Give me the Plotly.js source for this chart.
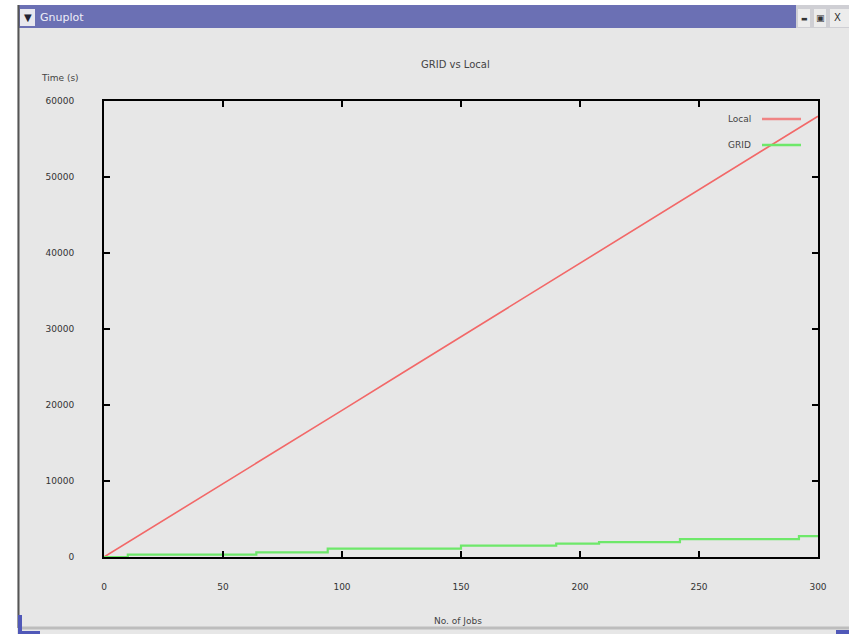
<!DOCTYPE html>
<html>
<head>
<meta charset="utf-8">
<script src="https://cdn.plot.ly/plotly-3.0.1.min.js"></script>
<style>html,body{margin:0;padding:0;background:#fff;}#chart{width:849px;height:634px;}</style>
</head>
<body>
<div id="chart"></div>
<script>
// Data
const localJobs = [0, 25, 50, 75, 100, 125, 150, 175, 200, 225, 250, 275, 300];
const localTime = [0, 4800, 9650, 14500, 19300, 24150, 29000, 33800, 38700, 43500, 48300, 53150, 58000];
const gridJobs = [0, 10, 64, 94, 150, 190, 208, 242, 292, 300];
const gridTime = [0, 300, 600, 1100, 1500, 1750, 1950, 2350, 2750, 2750];
const xTicks = [0, 50, 100, 150, 200, 250, 300];
const yTicks = [0, 10000, 20000, 30000, 40000, 50000, 60000];
const seriesNames = ["Local", "GRID"];

const W = 849, H = 634, L = 104, R = 818, T = 101, B = 557;
const px = v => (v - L) / (R - L);
const py = v => (B - v) / (B - T);

const shapes = [
  {type:'rect', xref:'paper', yref:'paper', x0:px(0), x1:px(17), y0:py(H), y1:py(0), fillcolor:'#ffffff', line:{width:0}, layer:'below'},
  {type:'rect', xref:'paper', yref:'paper', x0:px(0), x1:px(W), y0:py(5), y1:py(0), fillcolor:'#ffffff', line:{width:0}, layer:'below'},
  // title bar
  {type:'rect', xref:'paper', yref:'paper', x0:px(18), x1:px(796), y0:py(28), y1:py(5), fillcolor:'#6b70b4', line:{width:0}},
  {type:'rect', xref:'paper', yref:'paper', x0:px(20), x1:px(35), y0:py(26), y1:py(9), fillcolor:'#e8e8ee', line:{width:0}},
  {type:'rect', xref:'paper', yref:'paper', x0:px(796), x1:px(849), y0:py(28), y1:py(5), fillcolor:'#cfcfd4', line:{width:0}},
  {type:'rect', xref:'paper', yref:'paper', x0:px(798), x1:px(810), y0:py(27), y1:py(9), fillcolor:'#ececec', line:{width:0}},
  {type:'rect', xref:'paper', yref:'paper', x0:px(814), x1:px(826), y0:py(27), y1:py(9), fillcolor:'#ececec', line:{width:0}},
  {type:'rect', xref:'paper', yref:'paper', x0:px(830), x1:px(849), y0:py(27), y1:py(9), fillcolor:'#ececec', line:{width:0}},
  // left window border
  {type:'line', xref:'paper', yref:'paper', x0:px(18.5), x1:px(18.5), y0:py(628), y1:py(5), line:{color:'#555', width:2}},
  // bottom border
  {type:'line', xref:'paper', yref:'paper', x0:px(19), x1:px(849), y0:py(628), y1:py(628), line:{color:'#bdbdbd', width:3}},
  {type:'rect', xref:'paper', yref:'paper', x0:px(18), x1:px(22), y0:py(634), y1:py(615), fillcolor:'#5058b8', line:{width:0}},
  {type:'rect', xref:'paper', yref:'paper', x0:px(18), x1:px(40), y0:py(634), y1:py(631), fillcolor:'#5058b8', line:{width:0}},
  {type:'rect', xref:'paper', yref:'paper', x0:px(836), x1:px(849), y0:py(634), y1:py(630), fillcolor:'#5058b8', line:{width:0}},
  // legend samples
  {type:'line', xref:'paper', yref:'paper', x0:px(762), x1:px(801), y0:py(119), y1:py(119), line:{color:'#f08484', width:2.5}},
  {type:'line', xref:'paper', yref:'paper', x0:px(762), x1:px(801), y0:py(145), y1:py(145), line:{color:'#6ee86a', width:2.5}}
];

const txt = {family:'DejaVu Sans, sans-serif', size:9, color:'#444'};
function ann(x, y, text, font, xanchor) {
  return {xref:'paper', yref:'paper', x:px(x), y:py(y), text:text, showarrow:false,
          font:font, xanchor:xanchor || 'center', yanchor:'middle'};
}
const annotations = [
  ann(455, 65, 'GRID vs Local', {family:'DejaVu Sans, sans-serif', size:10, color:'#444'}),
  ann(39, 78, 'Time (s)', txt, 'left'),
  ann(458, 621, 'No. of Jobs', txt),
  ann(753, 119, seriesNames[0], txt, 'right'),
  ann(753, 145, seriesNames[1], txt, 'right'),
  ann(38, 17, 'Gnuplot', {family:'DejaVu Sans, sans-serif', size:11, color:'#eeeef8'}, 'left'),
  ann(27.5, 17, '▼', {family:'DejaVu Sans, sans-serif', size:10, color:'#223'}),
  ann(804, 19, '▬', {family:'DejaVu Sans, sans-serif', size:7, color:'#333'}),
  ann(820, 18, '▣', {family:'DejaVu Sans, sans-serif', size:9, color:'#333'}),
  ann(838, 18, 'X', {family:'DejaVu Sans, sans-serif', size:10, color:'#333'})
];

const data = [
  {x: localJobs, y: localTime, type:'scatter', mode:'lines', name:seriesNames[0], line:{color:'#f26868', width:1.6}},
  {x: gridJobs, y: gridTime, type:'scatter', mode:'lines', name:seriesNames[1], line:{color:'#6ee86a', width:2.2, shape:'hv'}}
];

const axisCommon = {
  showgrid:false, zeroline:false, showline:true, linecolor:'#000', linewidth:2, mirror:'ticks',
  ticks:'inside', ticklen:6, tickcolor:'#000', tickwidth:2,
  tickfont:{family:'DejaVu Sans, sans-serif', size:9, color:'#333'}
};

const layout = {
  width:W, height:H,
  margin:{l:L, r:W-R, t:T, b:H-B, pad:0},
  paper_bgcolor:'#e7e7e7', plot_bgcolor:'#e7e7e7',
  showlegend:false,
  xaxis:Object.assign({}, axisCommon, {range:[0,300], tickvals:xTicks, ticktext:xTicks.map(String), ticklabelstandoff:20}),
  yaxis:Object.assign({}, axisCommon, {range:[0,60000], tickvals:yTicks, ticktext:yTicks.map(String), ticklabelstandoff:26}),
  shapes:shapes, annotations:annotations
};

Plotly.newPlot('chart', data, layout, {displayModeBar:false, staticPlot:true});
</script>
</body>
</html>
